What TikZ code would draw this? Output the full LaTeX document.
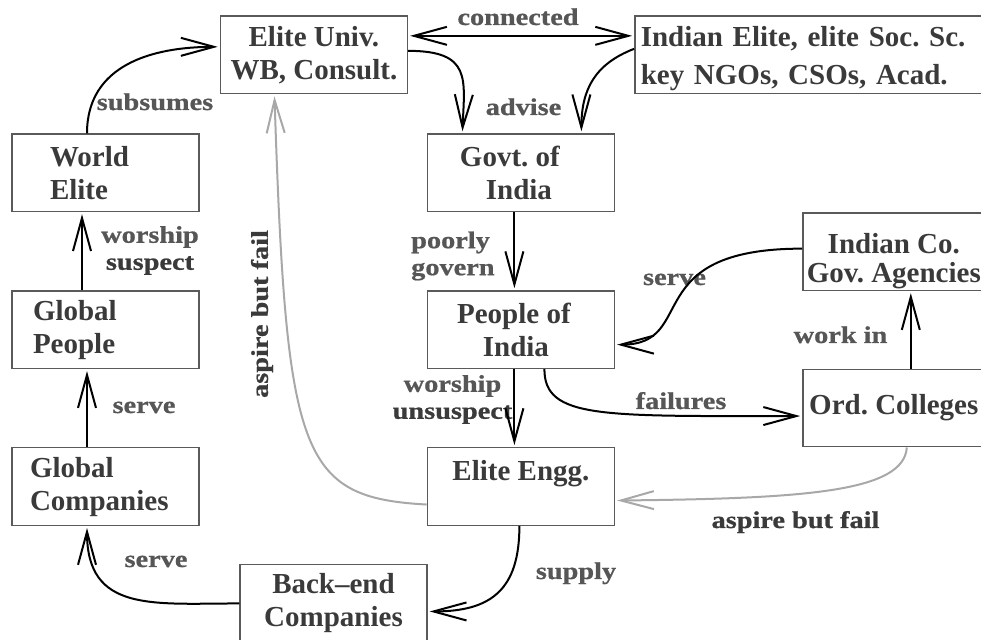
\documentclass[tikz,border=0pt]{standalone}
\usepackage{fontspec}
\setmainfont{Liberation Serif}
\newfontfamily\lblfont[FakeStretch=1.18,FakeBold=0.8]{Liberation Serif}
\usetikzlibrary{positioning,arrows.meta}

\definecolor{boxgray}{HTML}{5A5A5A}
\definecolor{txtgray}{HTML}{3A3A3A}
\definecolor{lblgray}{HTML}{565656}
\definecolor{aspgray}{HTML}{A8A8A8}

\tikzset{
  box/.style = {draw=boxgray, line width=1.4pt, minimum width=187pt,
    minimum height=77.5pt, inner sep=0pt, align=center, text=txtgray,
    font=\fontsize{29}{33}\selectfont\bfseries},
  lbl/.style = {inner sep=0pt, text=lblgray,
    font=\lblfont\fontsize{24}{27}\selectfont\bfseries},
  link/.style = {line width=2pt, -{Straight Barb[length=33pt,width=18pt]},
    shorten >=2pt},
  aspire/.style = {link, draw=aspgray},
}

\begin{document}
\frenchspacing
\begin{tikzpicture}[x=1pt,y=1pt]
   \useasboundingbox (0,0) rectangle (981,639);
   \clip (0,0) rectangle (981,639);

   % left column
   \node[box, align=left, text width=111pt, inner xsep=38pt] (world) at (105.5,466.25) {World\\Elite};
   \node[box, align=left, text width=145pt, inner xsep=21pt, below=78pt of world] (globpeople) {Global\\People};
   \node[box, align=left, text width=151pt, inner xsep=18pt, below=78pt of globpeople] (globcomp) {Global\\Companies};

   % middle column
   \node[box, right=227pt of world] (govt) {Govt. of\hspace*{22pt}\\India\hspace*{4pt}};
   \node[box, below=78pt of govt] (people) {People of\hspace*{14pt}\\India\hspace*{10pt}};
   \node[box, below=78pt of people] (engg) {Elite Engg.\\\mbox{}};
   \node[box, above right=39pt and 20pt of world] (univ) {Elite Univ.\\WB, Consult.};
   \node[box, below left=38pt and -1pt of engg] (backend) {Back\textendash end\\Companies};

   % right column (cut by the page edge)
   \node[box, align=left, text width=340pt, inner xsep=6pt, right=226pt of univ,
         font=\fontsize{29}{38}\selectfont\bfseries] (indelite) {\rule{0pt}{28pt}Indian Elite, elite Soc. Sc.\\key NGOs, CSOs, Acad.};
   \node[box, minimum width=182pt, below right=0pt and 187pt of govt] (indco) {\rule{0pt}{40pt}Indian Co.\\[-4pt]Gov. Agencies};
   \node[box, minimum width=182pt, below=77.5pt of indco] (ord) {Ord. Colleges};

   % labels
   \node[lbl, anchor=base] (lconnected) at (518,614) {connected};
   \node[lbl, anchor=base] (lsubsumes) at (155,529) {subsumes};
   \node[lbl, anchor=base] (ladvise) at (523.5,524) {advise};
   \node[lbl, align=center] (lsuspect) at (150,388.5) {worship\\\textcolor{txtgray}{suspect}};
   \node[lbl, align=left, anchor=west] (lgovern) at (411,383) {poorly\\govern};
   \node[lbl, anchor=base] (lserveco) at (674.5,354) {serve};
   \node[lbl, anchor=base] (lworkin) at (840.5,296) {work in};
   \node[lbl, anchor=base] (lserveglob) at (144,226) {serve};
   \node[lbl, align=center] (lunsuspect) at (452.5,239.5) {worship\\\textcolor{txtgray}{unsuspect}};
   \node[lbl, anchor=base] (lfailures) at (681,230) {failures};
   \node[lbl, anchor=base, text=txtgray] (laspireord) at (795.5,111) {aspire but fail};
   \node[lbl, anchor=base] (lserveback) at (156,72) {serve};
   \node[lbl, anchor=base] (lsupply) at (576,60) {supply};
   \node[lbl, rotate=90, text=txtgray] (laspireuniv) at (262,325) {aspire but fail};

   % connectors
   \draw[link] ([xshift=-18.5pt]world.north) to[out=90,in=180,looseness=1.1] ([yshift=8pt]univ.west);
   \draw[link] ([xshift=-23.5pt]globpeople.north) -- ([xshift=-23.5pt]world.south);
   \draw[link] ([xshift=-18.5pt]globcomp.north) -- ([xshift=-18.5pt]globpeople.south);
   \draw[link] (backend.west) to[out=180,in=-90,looseness=1.3] ([xshift=-18.5pt]globcomp.south);
   \draw[link] ([xshift=-1.5pt]engg.south) to[out=-90,in=0,looseness=1.3] ([yshift=-8pt]backend.east);
   \draw[link, {Straight Barb[length=33pt,width=18pt]}-{Straight Barb[length=33pt,width=18pt]},
         shorten <=2pt] ([yshift=19pt]univ.east) -- ([yshift=19pt]indelite.west);
   \draw[link] ([yshift=4pt]univ.east) .. controls +(64,0) and +(2,54) .. ([xshift=-58.5pt]govt.north);
   \draw[link] ([yshift=6pt]indelite.west) .. controls +(-39,-15) and +(0,44) .. ([xshift=60.5pt]govt.north);
   \draw[link] ([xshift=-6.5pt]govt.south) -- ([xshift=-6.5pt]people.north);
   \draw[link] ([xshift=-6.5pt]people.south) -- ([xshift=-6.5pt]engg.north);
   \draw[link] ([xshift=23.5pt]people.south) .. controls +(0,-50) and +(-200,0) .. ([yshift=-8pt]ord.west);
   \draw[link] ([xshift=17pt]ord.north) -- ([xshift=17pt]indco.south);
   \draw[link] ([yshift=3pt]indco.west) .. controls +(-165,0) and +(84,0) .. ([yshift=-15pt]people.east);
   \draw[aspire] ([xshift=13pt]ord.south) .. controls +(-3,-45) and +(187,2) .. ([yshift=-14pt]engg.east);
   \draw[aspire] ([yshift=-18pt]engg.west) .. controls +(-127,7) and +(12,-363) .. ([xshift=-39.5pt]univ.south);
\end{tikzpicture}
\end{document}
